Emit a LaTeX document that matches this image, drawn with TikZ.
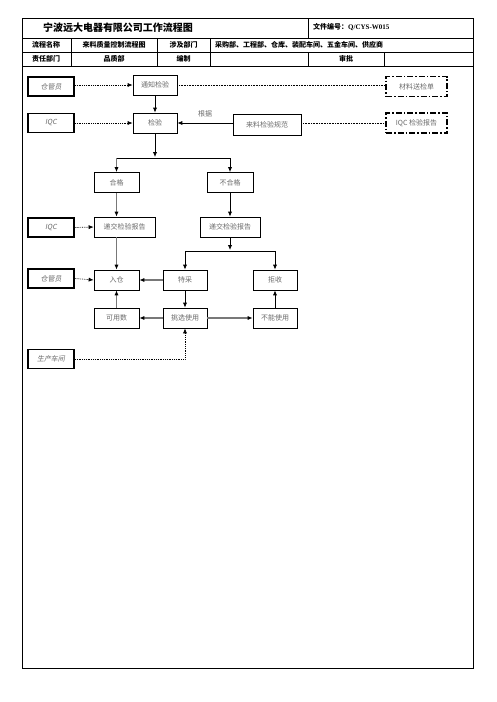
\documentclass[tikz,border=0pt]{standalone}
\usepackage{fontspec}
\setmainfont{Liberation Serif}
\newfontfamily\cjk[AutoFakeSlant=0.2]{Noto Sans CJK SC}
\usetikzlibrary{arrows.meta,positioning,calc}
\definecolor{textgray}{RGB}{105,105,105}
\definecolor{linegray}{RGB}{120,120,120}

\begin{document}
\begin{tikzpicture}[x=1pt, y=-1pt,
      basebox/.style={rectangle, draw=black, line width=0.7pt, align=center,
                      font=\cjk\fontsize{7}{8}\selectfont, text=textgray,
                      minimum height=20pt, inner sep=1pt},
      stepbox/.style={basebox, minimum width=44pt},
      rolebox/.style={basebox, line width=1.8pt, minimum width=46pt,
                      minimum height=19pt,
                      font=\cjk\itshape\fontsize{7}{8}\selectfont},
      docbox/.style={basebox, line width=1.3pt, minimum width=61pt,
                     dash pattern=on 6pt off 2pt on 1.5pt off 2pt},
      headtext/.style={font=\cjk\bfseries\fontsize{7}{8}\selectfont,
                       inner sep=0pt},
      arrow/.style={-{Latex[length=5pt,width=4.2pt,color=black]},
                    line width=0.8pt},
      grayarrow/.style={arrow, draw=linegray, line width=1.7pt},
      dotarrow/.style={arrow, densely dotted, line width=0.7pt},
      dotline/.style={densely dotted, line width=0.6pt},
    ]
      \useasboundingbox (0,0) rectangle (496,702);
      % form frame and header table
      \draw[line width=1pt] (22,18) rectangle (473,668);
      \draw[line width=0.7pt] (22,38) -- (473,38) (22,52) -- (473,52)
            (22,66) -- (473,66);
      \draw[line width=0.7pt] (308,18) -- (308,38);
      \foreach \xx in {71,157,210}
        \draw[line width=0.7pt] (\xx,38) -- (\xx,66);
      \draw[line width=0.7pt] (308,52) -- (308,66) (384,52) -- (384,66);
      \node[headtext, font=\cjk\bfseries\fontsize{10}{12}\selectfont]
            (title) at (118,27.5) {宁波远大电器有限公司工作流程图};
      \node[headtext, anchor=west] (fileno) at (313,27.5)
            {文件编号：\rmfamily\bfseries Q/CYS-W015};
      \node[headtext] (hname) at (46,45) {流程名称};
      \node[headtext] (vname) at (114,45) {来料质量控制流程图};
      \node[headtext] (hdept) at (183.5,45) {涉及部门};
      \node[headtext, anchor=west] (vdept) at (215,45)
            {采购部、工程部、仓库、装配车间、五金车间、供应商};
      \node[headtext] (hresp) at (46,59) {责任部门};
      \node[headtext] (vresp) at (114,59) {品质部};
      \node[headtext] (hedit) at (183.5,59) {编制};
      \node[headtext] (happr) at (346,59) {审批};
      % roles
      \node[rolebox] (whA) at (51,86.5) {仓管员};
      \node[rolebox] (iqcA) at (51,123) {IQC};
      \node[rolebox] (iqcB) at (51,227.5) {IQC};
      \node[rolebox] (whB) at (51,278.5) {仓管员};
      \node[rolebox] (prod) at (51,359) {生产车间};
      % process steps
      \node[stepbox] (notice) at (155,85) {通知检验};
      \node[stepbox] (insp) at (155,123) {检验};
      \node[basebox, minimum width=68pt, minimum height=21pt] (spec)
            at (267,124.5) {来料检验规范};
      \node[font=\cjk\fontsize{7}{8}\selectfont, text=textgray] (basis)
            at (205,114) {根据};
      \node[docbox] (docA) at (416.5,86.5) {材料送检单};
      \node[docbox] (docB) at (416.5,123) {IQC 检验报告};
      \node[stepbox, minimum width=45pt] (pass) at (116.5,182.5) {合格};
      \node[stepbox, minimum width=46pt] (fail) at (230,182.5) {不合格};
      \node[stepbox, minimum width=61pt] (repA) at (124.5,227) {递交检验报告};
      \node[stepbox, minimum width=60pt] (repB) at (230,227) {递交检验报告};
      \node[stepbox, minimum width=45pt] (store) at (116.5,280) {入仓};
      \node[stepbox] (special) at (185,280) {特采};
      \node[stepbox] (reject) at (275,280) {拒收};
      \node[stepbox, minimum width=45pt] (usable) at (116.5,318) {可用数};
      \node[stepbox] (pick) at (185,318) {挑选使用};
      \node[stepbox] (unusable) at (275,318) {不能使用};
      \coordinate (splitA) at (155,158);
      \coordinate (splitB) at (230,251);
      % connectors
      \draw[dotarrow] (whA.east |- notice.west) -- (notice.west);
      \draw[dotline] (notice.east) -- (docA.west |- notice.east);
      \draw[arrow] (notice.south) -- (insp.north);
      \draw[dotarrow] (iqcA.east) -- (insp.west);
      \draw[arrow] (spec.west |- insp.east) -- (insp.east);
      \draw[dotline] (spec.east |- docB.west) -- (docB.west);
      \draw[arrow] (insp.south) -- ($(splitA)+(0,-1)$);
      \draw[line width=0.8pt] (pass.north |- splitA) -- (fail.north |- splitA);
      \draw[grayarrow] (pass.north |- splitA) -- (pass.north);
      \draw[arrow] (fail.north |- splitA) -- (fail.north);
      \draw[grayarrow] (pass.south) -- (pass.south |- repA.north);
      \draw[arrow] (fail.south) -- (repB.north);
      \draw[dotarrow] (iqcB.east) -- (repA.west);
      \draw[grayarrow] (pass.south |- repA.south) -- (store.north);
      \draw[arrow] (repB.south) -- ($(splitB)+(0,-1)$);
      \draw[line width=0.8pt] (special.north |- splitB)
            -- (reject.north |- splitB);
      \draw[arrow] (special.north |- splitB) -- (special.north);
      \draw[arrow] (reject.north |- splitB) -- (reject.north);
      \draw[dotarrow] (whB.east) -- (store.west);
      \draw[grayarrow] (special.west) -- (store.east);
      \draw[arrow] (special.south) -- (pick.north);
      \draw[grayarrow] (pick.west) -- (usable.east);
      \draw[grayarrow] (usable.north) -- (store.south);
      \draw[grayarrow] (pick.east) -- (unusable.west);
      \draw[arrow] (unusable.north) -- (reject.south);
      \draw[dotarrow] (prod.east) -| (pick.south);
    \end{tikzpicture}
\end{document}
